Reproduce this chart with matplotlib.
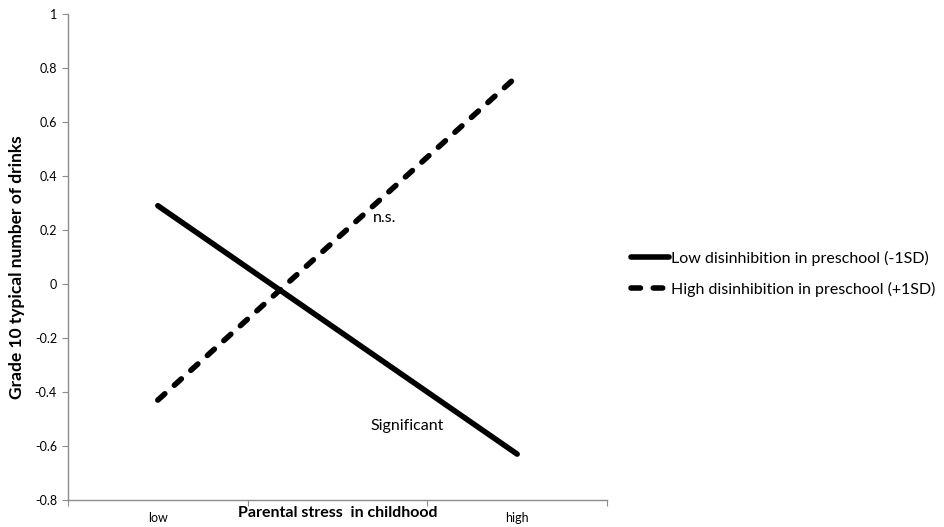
import matplotlib
matplotlib.use("Agg")
import matplotlib.pyplot as plt
from matplotlib.ticker import FixedLocator, NullFormatter, FixedFormatter

plt.rcParams['font.family'] = ['Lato', 'DejaVu Sans']

# Simple slopes: grade 10 typical number of drinks by parental stress
categories = ["low", "", "high"]
x_idx = [0, 2]
low_disinhibition = [0.29, -0.63]
high_disinhibition = [-0.43, 0.77]
series_labels = ["Low disinhibition in preschool (-1SD)",
                 "High disinhibition in preschool (+1SD)"]
y_ticks = [-0.8, -0.6, -0.4, -0.2, 0, 0.2, 0.4, 0.6, 0.8, 1]
y_tick_labels = ["-0.8", "-0.6", "-0.4", "-0.2", "0", "0.2", "0.4", "0.6", "0.8", "1"]

fig = plt.figure(figsize=(9.44, 5.27), dpi=100)
ax = fig.add_axes([68 / 944, 27 / 527, (607 - 68) / 944, (500 - 14) / 527])

lw = 4.0
l1, = ax.plot(x_idx, low_disinhibition, color="black", lw=lw,
              solid_capstyle="round", label=series_labels[0])
l2, = ax.plot(x_idx, high_disinhibition, color="black", lw=lw,
              dashes=(1.7, 2.3), dash_capstyle="round", label=series_labels[1])

ax.set_xlim(-0.5, 2.5)
ax.set_ylim(-0.8, 1.0)

grey = "#8c8c8c"
for side in ("top", "right"):
    ax.spines[side].set_visible(False)
for side in ("left", "bottom"):
    ax.spines[side].set_color(grey)
    ax.spines[side].set_linewidth(1.0)

ax.yaxis.set_major_locator(FixedLocator(y_ticks))
ax.yaxis.set_major_formatter(FixedFormatter(y_tick_labels))
ax.tick_params(axis="y", direction="out", length=4, color=grey, labelsize=9, pad=4)

# category boundaries carry the tick marks, category centres carry the labels
ax.xaxis.set_major_locator(FixedLocator([-0.5, 0.5, 1.5, 2.5]))
ax.xaxis.set_major_formatter(NullFormatter())
ax.xaxis.set_minor_locator(FixedLocator([0, 1, 2]))
ax.xaxis.set_minor_formatter(FixedFormatter(categories))
ax.tick_params(axis="x", which="major", direction="out", length=4, color=grey)
ax.tick_params(axis="x", which="minor", length=0, labelsize=9, pad=9)

ax.set_xlabel("Parental stress  in childhood", fontsize=11.5, fontweight="bold", labelpad=-13)
ax.set_ylabel("Grade 10 typical number of drinks", fontsize=12.5, fontweight="bold",
              va="center")
ax.yaxis.set_label_coords(-0.095, 0.48)

ax.text(1.26, 0.245, "n.s.", fontsize=11.5, ha="center", va="center")
ax.text(1.39, -0.525, "Significant", fontsize=11.5, ha="center", va="center")

fig.legend(handles=[l1, l2], loc="center left", bbox_to_anchor=(617 / 944, 1 - 273.5 / 527),
           frameon=False, fontsize=11.5, handlelength=2.35, handletextpad=0.15,
           labelspacing=1.0)

fig.savefig("out.png", dpi=100)
